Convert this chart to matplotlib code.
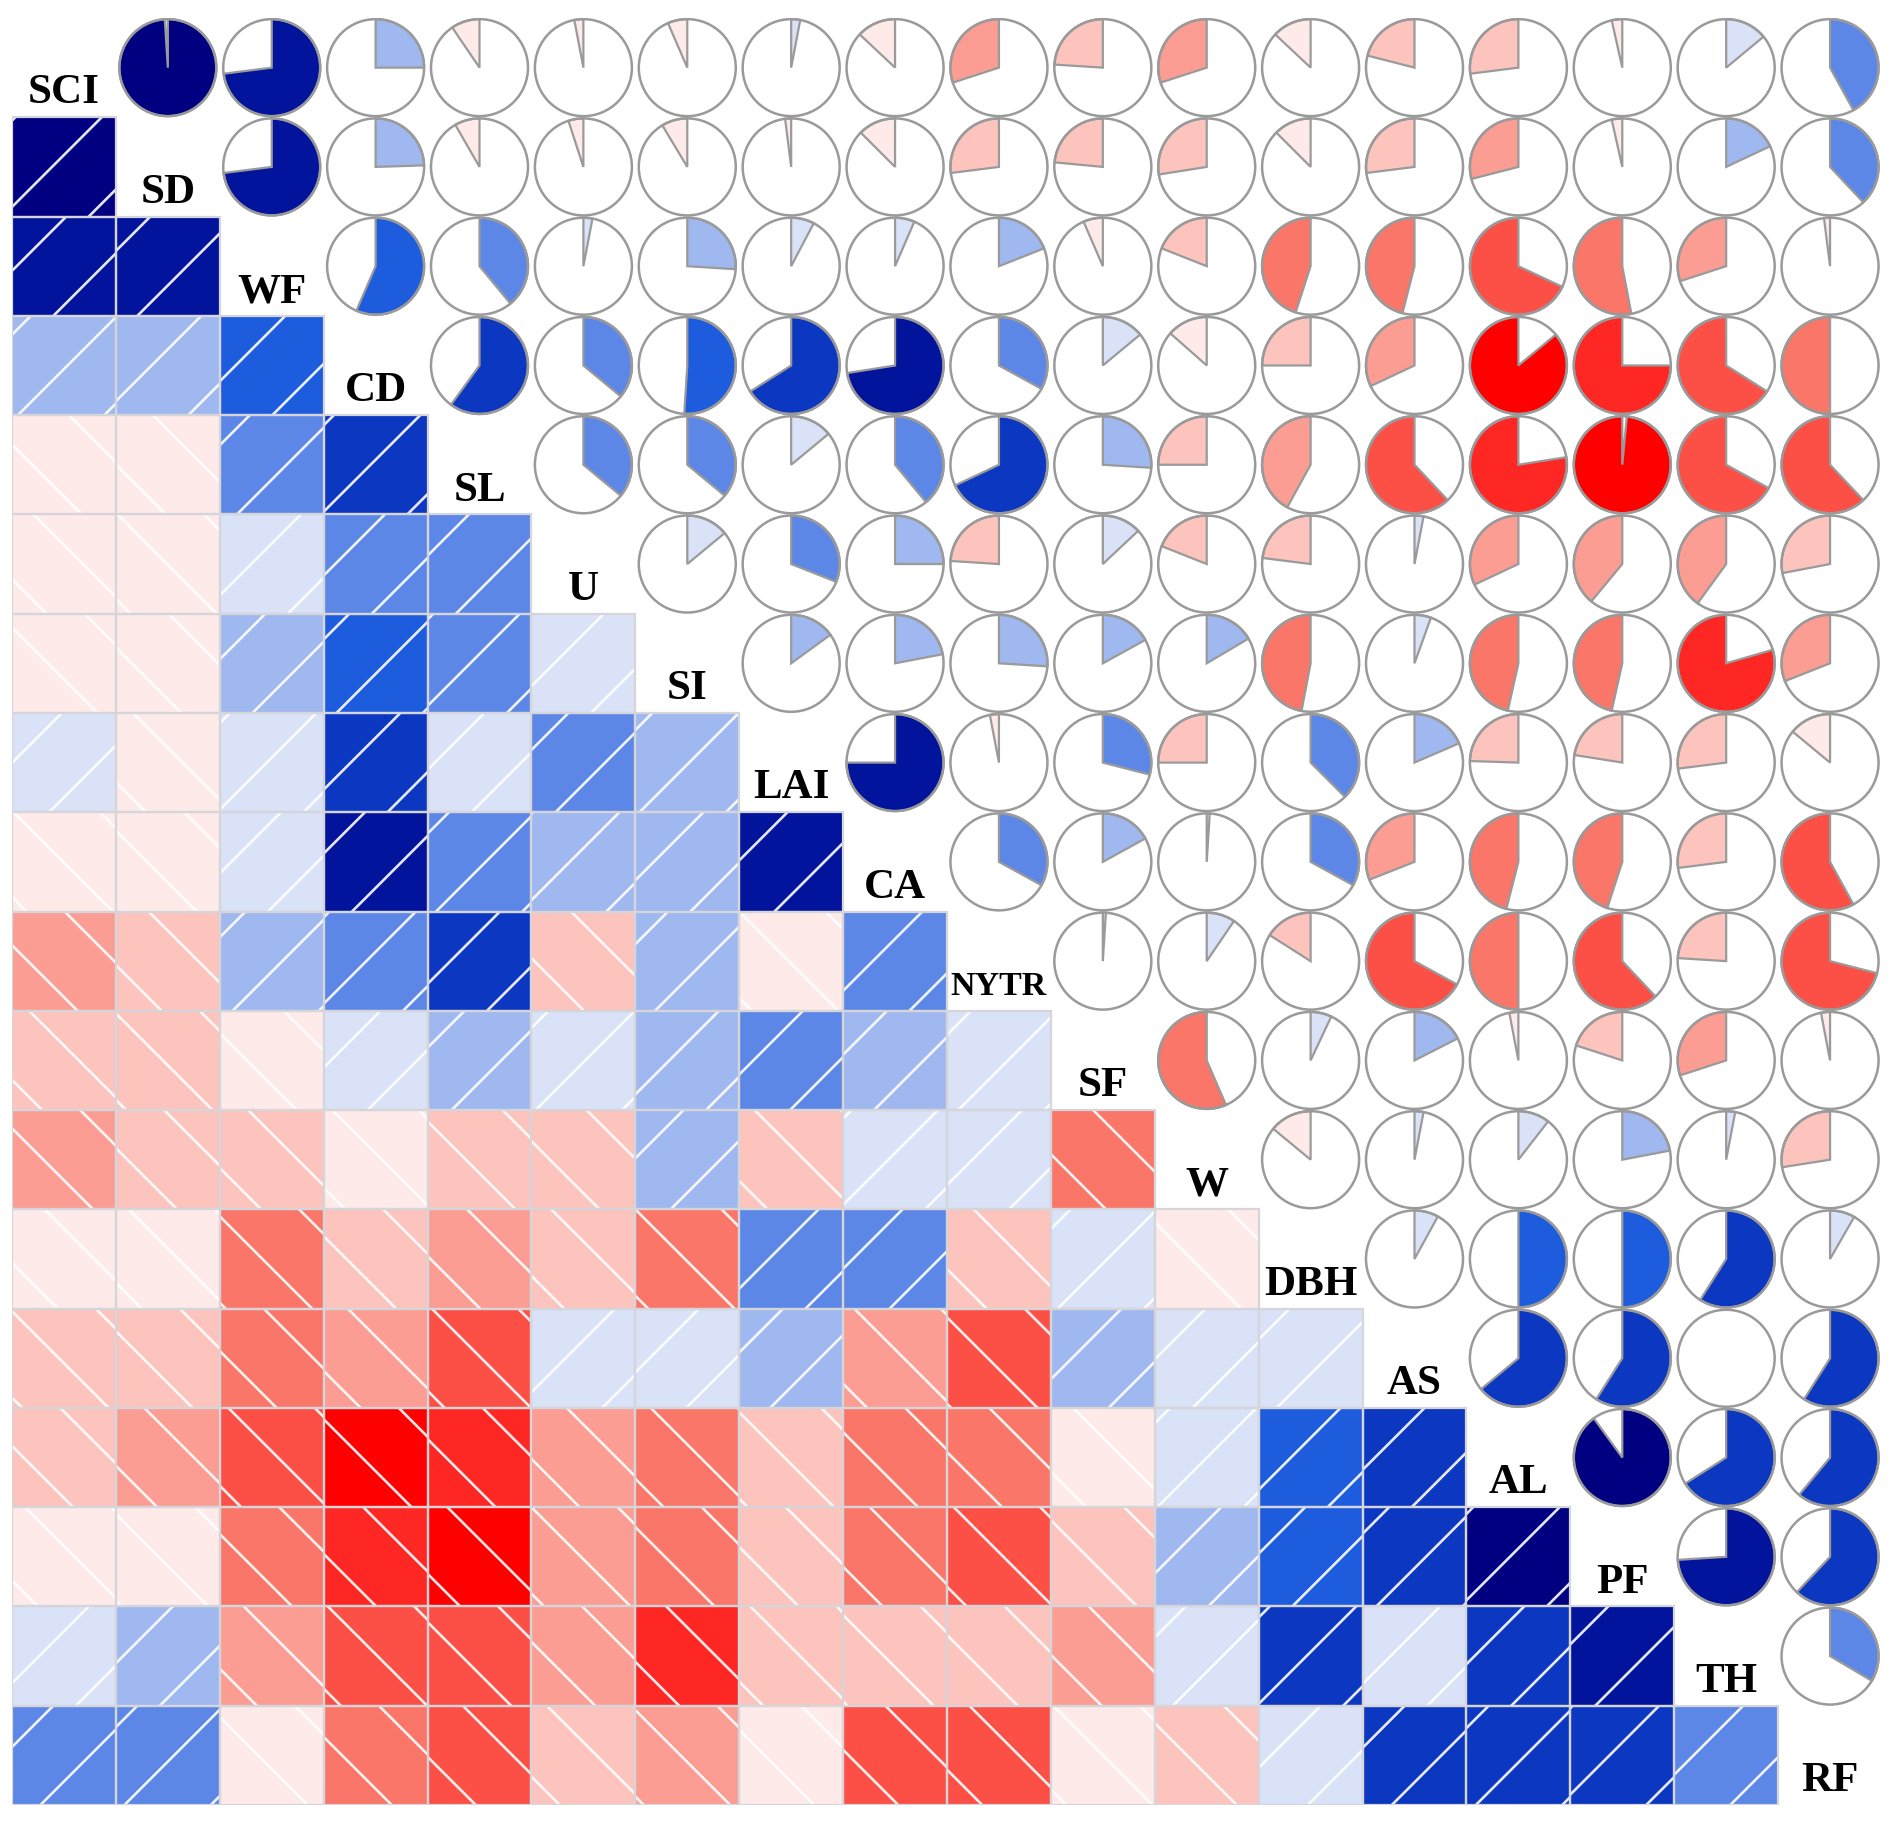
import numpy as np
import matplotlib
matplotlib.use("Agg")
import matplotlib.pyplot as plt
from matplotlib.patches import Rectangle, Polygon, Ellipse

labels = ["SCI", "SD", "WF", "CD", "SL", "U", "SI", "LAI", "CA", "NYTR",
          "SF", "W", "DBH", "AS", "AL", "PF", "TH", "RF"]

# correlation of each variable with the variables that follow it
r_SCI = [0.99, 0.73, 0.25, -0.095, -0.03, -0.065, 0.03, -0.13, -0.30, -0.24,
         -0.30, -0.13, -0.21, -0.27, -0.035, 0.14, 0.42]
r_SD = [0.73, 0.245, -0.083, -0.05, -0.086, -0.02, -0.125, -0.27, -0.235,
        -0.275, -0.125, -0.27, -0.29, -0.035, 0.18, 0.38]
r_WF = [0.565, 0.39, 0.03, 0.26, 0.077, 0.065, 0.19, -0.065, -0.19, -0.45,
        -0.46, -0.68, -0.53, -0.30, -0.02]
r_CD = [0.60, 0.36, 0.51, 0.66, 0.725, 0.33, 0.14, -0.135, -0.25, -0.32,
        -0.86, -0.75, -0.66, -0.50]
r_SL = [0.36, 0.36, 0.14, 0.39, 0.68, 0.26, -0.25, -0.42, -0.62, -0.775,
        -0.985, -0.67, -0.62]
r_U = [0.14, 0.31, 0.25, -0.24, 0.13, -0.19, -0.23, 0.03, -0.32, -0.39,
       -0.40, -0.28]
r_SI = [0.15, 0.22, 0.26, 0.17, 0.165, -0.47, 0.055, -0.465, -0.465, -0.795,
        -0.31]
r_LAI = [0.75, -0.03, 0.29, -0.25, 0.375, 0.185, -0.245, -0.225, -0.27, -0.14]
r_CA = [0.33, 0.17, 0.01, 0.33, -0.31, -0.46, -0.45, -0.27, -0.58]
r_NYTR = [0.01, 0.095, -0.16, -0.67, -0.50, -0.62, -0.24, -0.71]
r_SF = [-0.565, 0.07, 0.175, -0.03, -0.20, -0.30, -0.03]
r_W = [-0.14, 0.03, 0.105, 0.22, 0.03, -0.275]
r_DBH = [0.08, 0.50, 0.50, 0.59, 0.083]
r_AS = [0.64, 0.59, 0.002, 0.59]
r_AL = [0.90, 0.66, 0.61]
r_PF = [0.74, 0.62]
r_TH = [0.335]

rows = [r_SCI, r_SD, r_WF, r_CD, r_SL, r_U, r_SI, r_LAI, r_CA, r_NYTR,
        r_SF, r_W, r_DBH, r_AS, r_AL, r_PF, r_TH]

n = len(labels)
R = np.eye(n)
for i, vals in enumerate(rows):
    for k, v in enumerate(vals):
        j = i + 1 + k
        R[i, j] = R[j, i] = v

# 14 colour bins from -1 to 1 (red ... white ... navy)
pal = ["#ff0000", "#fe2723", "#fc4f46", "#fa7669", "#fb9d93", "#fdc4be",
       "#feebe9", "#dae2f8", "#a0b8f0", "#5c87e6", "#1e5cde", "#0c37c0",
       "#02149b", "#000080"]
ncol = len(pal)
breaks = np.linspace(-1, 1, ncol + 1)


def corr_color(r):
    idx = np.searchsorted(breaks, r, side="left") - 1
    return pal[int(np.clip(idx, 0, ncol - 1))]


fig = plt.figure(figsize=(18.97, 18.30), dpi=100)
ax = fig.add_axes([12 / 1897, 25 / 1830, 1870 / 1897, 1787 / 1830])
ax.set_xlim(0, n)
ax.set_ylim(n, 0)
ax.axis("off")

cw, ch = 1870 / n, 1787 / n      # cell size in pixels
asp = cw / ch                    # keeps hatch at 45 degrees and pies round
pie_gray = "#9a9a9a"
rx = 48.5 / cw
ry = 48.5 / ch

for i in range(n):
    for j in range(n):
        r = R[i, j]
        if j < i:
            # shaded square with white hatch lines
            rect = Rectangle((j, i), 1, 1, facecolor=corr_color(r),
                             edgecolor="none", zorder=1)
            ax.add_patch(rect)
            spacing = 0.87
            phase = ((0.41 * i + 0.23 * j) % 1.0) * spacing
            u = np.array([-0.2, 1.2])
            for c in np.arange(-2.0, 2.0, spacing) + phase:
                if r > 0:
                    y = i + 1 - (u * asp + c)
                else:
                    y = i + (u * asp + c)
                ln, = ax.plot(j + u, y, color="white", lw=1.9, alpha=0.9,
                              zorder=2, solid_capstyle="butt")
                ln.set_clip_path(rect)
            ax.add_patch(Rectangle((j, i), 1, 1, facecolor="none",
                                   edgecolor="#d6d6da", lw=1.6, zorder=3))
        elif j > i:
            cx, cy = j + 0.5, i + 0.5
            th = np.linspace(0, abs(r) * 2 * np.pi, 120)
            sgn = 1 if r > 0 else -1
            xs = cx + sgn * rx * np.sin(th)
            ys = cy - ry * np.cos(th)
            if abs(r) > 0.005:
                ax.add_patch(Polygon(np.column_stack([np.r_[cx, xs], np.r_[cy, ys]]),
                                     closed=True, facecolor=corr_color(r),
                                     edgecolor=pie_gray, lw=1.6, zorder=2))
            ax.add_patch(Ellipse((cx, cy), 2 * rx, 2 * ry, facecolor="none",
                                 edgecolor=pie_gray, lw=1.8, zorder=3))
        else:
            fs = 31 if len(labels[i]) <= 3 else 24.5
            ax.text(i + 0.5, i + 0.76, labels[i], ha="center", va="center",
                    fontsize=fs, fontweight="bold", family="Liberation Serif",
                    color="black", zorder=4)

fig.savefig("out.png", dpi=100, facecolor="white")
